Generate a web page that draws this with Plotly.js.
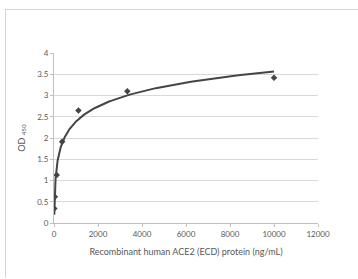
<!DOCTYPE html>
<html><head><meta charset="utf-8">
<script src="https://cdn.plot.ly/plotly-3.0.1.min.js"></script>
<style>
html,body{margin:0;padding:0;background:#fff;}
#wrap{position:relative;width:358px;height:279px;overflow:hidden;}
#frame{position:absolute;left:5px;top:9px;width:400px;height:268px;border-top:1.5px solid #d6d6d6;border-left:1.5px solid #d6d6d6;pointer-events:none;}
#chart{position:absolute;left:0;top:0;width:358px;height:279px;}
</style></head>
<body><div id="wrap"><div id="chart"></div><div id="frame"></div></div>
<script>
// Concentration (ng/mL) and OD450 readings
const concentration = [10000, 3333.3, 1111.1, 370.4, 123.5, 41.2, 13.7];
const od450 = [3.42, 3.10, 2.65, 1.91, 1.13, 0.615, 0.34];
const xTicks = [0, 2000, 4000, 6000, 8000, 10000, 12000];
const yTicks = [0, 0.5, 1, 1.5, 2, 2.5, 3, 3.5, 4];

// Logarithmic trendline (least squares y = a ln x + b), as in the spreadsheet
const lx = concentration.map(Math.log);
const n = lx.length;
const mx = lx.reduce((s,v)=>s+v,0)/n;
const my = od450.reduce((s,v)=>s+v,0)/n;
let sxy=0, sxx=0;
for(let i=0;i<n;i++){sxy+=(lx[i]-mx)*(od450[i]-my);sxx+=(lx[i]-mx)**2;}
const a = sxy/sxx, b = my - a*mx;
const xmin = Math.min(...concentration), xmax = Math.max(...concentration);
const fitX=[], fitY=[];
for(let i=0;i<=200;i++){
  const x = Math.exp(Math.log(xmin) + (Math.log(xmax)-Math.log(xmin))*i/200);
  fitX.push(x); fitY.push(a*Math.log(x)+b);
}

const font = {family:'Lato, "Open Sans", sans-serif', color:'#595959', size:8};
const data = [
  {x:fitX, y:fitY, mode:'lines', line:{color:'#454545', width:2}, hoverinfo:'skip'},
  {x:concentration, y:od450, mode:'markers', marker:{symbol:'diamond', size:5, color:'#454545'}}
];
const layout = {
  width:358, height:279, showlegend:false,
  margin:{l:54, r:40, t:53, b:56, pad:0},
  paper_bgcolor:'#fff', plot_bgcolor:'#fff',
  font:font,
  xaxis:{range:[0,12000], tickvals:xTicks, ticktext:xTicks.map(String), showgrid:false, zeroline:false,
    showline:true, linecolor:'#bfbfbf', linewidth:1, ticks:'outside', ticklen:3, tickcolor:'#bfbfbf',
    tickfont:{size:8, color:'#595959'},
    title:{text:'Recombinant human ACE2 (ECD) protein (ng/mL)', font:{size:9, color:'#595959'}, standoff:11}},
  yaxis:{range:[0,4], tickvals:yTicks, ticktext:yTicks.map(String), showgrid:true, gridcolor:'#d9d9d9', gridwidth:1,
    zeroline:false, showline:true, linecolor:'#bfbfbf', linewidth:1, ticks:'outside', ticklen:3, tickcolor:'#bfbfbf',
    tickfont:{size:8, color:'#595959'},
    title:{text:'OD <sub>450</sub>', font:{size:9, color:'#595959'}, standoff:10}}
};
Plotly.newPlot('chart', data, layout, {staticPlot:true, displayModeBar:false});
</script></body></html>
